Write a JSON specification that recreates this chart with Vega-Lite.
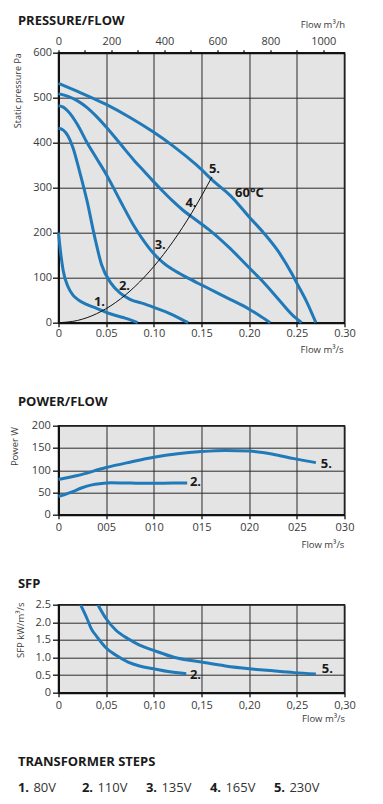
{
  "$schema": "https://vega.github.io/schema/vega-lite/v6.json",
  "autosize": {"type": "pad"},
  "padding": {"left": 8.5, "top": 13.7, "right": 0, "bottom": 0},
  "spacing": 0,
  "bounds": "flush",
  "config": {
    "font": "Open Sans",
    "view": {"fill": "#e4e4e4", "stroke": "#1a1a1a", "strokeWidth": 1.5},
    "axis": {
      "domainColor": "#111111", "domainWidth": 2,
      "tickColor": "#111111", "tickWidth": 1.3,
      "labelFont": "Open Sans", "labelFontSize": 11, "labelColor": "#3a3a3a",
      "labelFlush": false, "labelOverlap": false, "labelSeparation": 0,
      "titleFont": "Open Sans", "titleFontWeight": "normal", "titleFontSize": 9.5, "titleColor": "#3a3a3a",
      "gridColor": "#2a2a2a", "gridWidth": 1, "gridOpacity": 1
    },
    "title": {"font": "Open Sans", "fontSize": 13, "fontWeight": "bold", "color": "#1a1a1a", "anchor": "start", "frame": "group"}
  },
  "datasets": {
    "pressure": [
      {"c": 1, "q": 0, "p": 200}, {"c": 1, "q": 0.002, "p": 160}, {"c": 1, "q": 0.005, "p": 115}, {"c": 1, "q": 0.01, "p": 80}, {"c": 1, "q": 0.015, "p": 62}, {"c": 1, "q": 0.02, "p": 52}, {"c": 1, "q": 0.03, "p": 40}, {"c": 1, "q": 0.04, "p": 32}, {"c": 1, "q": 0.05, "p": 23}, {"c": 1, "q": 0.06, "p": 16}, {"c": 1, "q": 0.07, "p": 10}, {"c": 1, "q": 0.083, "p": 0},
      {"c": 2, "q": 0, "p": 432}, {"c": 2, "q": 0.005, "p": 428}, {"c": 2, "q": 0.01, "p": 415}, {"c": 2, "q": 0.015, "p": 390}, {"c": 2, "q": 0.022, "p": 337}, {"c": 2, "q": 0.03, "p": 270}, {"c": 2, "q": 0.038, "p": 190}, {"c": 2, "q": 0.045, "p": 130}, {"c": 2, "q": 0.055, "p": 88}, {"c": 2, "q": 0.065, "p": 65}, {"c": 2, "q": 0.075, "p": 52}, {"c": 2, "q": 0.09, "p": 42}, {"c": 2, "q": 0.1, "p": 34}, {"c": 2, "q": 0.115, "p": 22}, {"c": 2, "q": 0.125, "p": 12}, {"c": 2, "q": 0.136, "p": 0},
      {"c": 3, "q": 0, "p": 482}, {"c": 3, "q": 0.005, "p": 479}, {"c": 3, "q": 0.01, "p": 470}, {"c": 3, "q": 0.02, "p": 440}, {"c": 3, "q": 0.03, "p": 400}, {"c": 3, "q": 0.04, "p": 365}, {"c": 3, "q": 0.05, "p": 330}, {"c": 3, "q": 0.065, "p": 270}, {"c": 3, "q": 0.08, "p": 212}, {"c": 3, "q": 0.09, "p": 180}, {"c": 3, "q": 0.1, "p": 153}, {"c": 3, "q": 0.11, "p": 133}, {"c": 3, "q": 0.12, "p": 118}, {"c": 3, "q": 0.135, "p": 100}, {"c": 3, "q": 0.15, "p": 84}, {"c": 3, "q": 0.165, "p": 68}, {"c": 3, "q": 0.18, "p": 52}, {"c": 3, "q": 0.2, "p": 30}, {"c": 3, "q": 0.21, "p": 17}, {"c": 3, "q": 0.222, "p": 0},
      {"c": 4, "q": 0, "p": 509}, {"c": 4, "q": 0.01, "p": 503}, {"c": 4, "q": 0.02, "p": 493}, {"c": 4, "q": 0.03, "p": 478}, {"c": 4, "q": 0.04, "p": 458}, {"c": 4, "q": 0.05, "p": 435}, {"c": 4, "q": 0.06, "p": 410}, {"c": 4, "q": 0.07, "p": 384}, {"c": 4, "q": 0.08, "p": 359}, {"c": 4, "q": 0.09, "p": 336}, {"c": 4, "q": 0.1, "p": 313}, {"c": 4, "q": 0.11, "p": 291}, {"c": 4, "q": 0.12, "p": 270}, {"c": 4, "q": 0.13, "p": 251}, {"c": 4, "q": 0.145, "p": 227}, {"c": 4, "q": 0.16, "p": 203}, {"c": 4, "q": 0.18, "p": 165}, {"c": 4, "q": 0.2, "p": 122}, {"c": 4, "q": 0.215, "p": 90}, {"c": 4, "q": 0.23, "p": 54}, {"c": 4, "q": 0.245, "p": 18}, {"c": 4, "q": 0.255, "p": 0},
      {"c": 5, "q": 0, "p": 532}, {"c": 5, "q": 0.02, "p": 514}, {"c": 5, "q": 0.05, "p": 485}, {"c": 5, "q": 0.075, "p": 456}, {"c": 5, "q": 0.1, "p": 423}, {"c": 5, "q": 0.12, "p": 393}, {"c": 5, "q": 0.145, "p": 350}, {"c": 5, "q": 0.165, "p": 310}, {"c": 5, "q": 0.18, "p": 283}, {"c": 5, "q": 0.2, "p": 235}, {"c": 5, "q": 0.215, "p": 200}, {"c": 5, "q": 0.23, "p": 160}, {"c": 5, "q": 0.245, "p": 108}, {"c": 5, "q": 0.25, "p": 88}, {"c": 5, "q": 0.26, "p": 48}, {"c": 5, "q": 0.27, "p": 0}
    ],
    "system": [
      {"q": 0, "p": 0}, {"q": 0.02, "p": 5}, {"q": 0.04, "p": 20}, {"q": 0.06, "p": 45}, {"q": 0.08, "p": 80}, {"q": 0.1, "p": 125}, {"q": 0.12, "p": 180}, {"q": 0.14, "p": 245}, {"q": 0.161, "p": 324}
    ],
    "plabels": [
      {"t": "1.", "q": 0.043, "p": 46}, {"t": "2.", "q": 0.0692, "p": 81.5}, {"t": "3.", "q": 0.1067, "p": 172}, {"t": "4.", "q": 0.139, "p": 267}, {"t": "5.", "q": 0.1636, "p": 342}, {"t": "60°C", "q": 0.2003, "p": 289}
    ],
    "power": [
      {"c": 5, "q": 0, "w": 79}, {"c": 5, "q": 0.02, "w": 88}, {"c": 5, "q": 0.05, "w": 106}, {"c": 5, "q": 0.075, "w": 118}, {"c": 5, "q": 0.1, "w": 129}, {"c": 5, "q": 0.125, "w": 137}, {"c": 5, "q": 0.15, "w": 142}, {"c": 5, "q": 0.175, "w": 144.5}, {"c": 5, "q": 0.2, "w": 143}, {"c": 5, "q": 0.225, "w": 136}, {"c": 5, "q": 0.247, "w": 126}, {"c": 5, "q": 0.27, "w": 117},
      {"c": 2, "q": 0, "w": 41}, {"c": 2, "q": 0.005, "w": 44}, {"c": 2, "q": 0.015, "w": 52}, {"c": 2, "q": 0.024, "w": 60}, {"c": 2, "q": 0.035, "w": 67}, {"c": 2, "q": 0.045, "w": 70}, {"c": 2, "q": 0.055, "w": 72}, {"c": 2, "q": 0.07, "w": 71.5}, {"c": 2, "q": 0.085, "w": 70.5}, {"c": 2, "q": 0.1, "w": 70.5}, {"c": 2, "q": 0.12, "w": 71}, {"c": 2, "q": 0.135, "w": 71}
    ],
    "powlabels": [
      {"t": "2.", "q": 0.1437, "w": 74}, {"t": "5.", "q": 0.281, "w": 115}
    ],
    "sfp": [
      {"c": 5, "q": 0.0413, "s": 2.5}, {"c": 5, "q": 0.05, "s": 2.1}, {"c": 5, "q": 0.06, "s": 1.78}, {"c": 5, "q": 0.073, "s": 1.53}, {"c": 5, "q": 0.085, "s": 1.35}, {"c": 5, "q": 0.1, "s": 1.2}, {"c": 5, "q": 0.122, "s": 1.0}, {"c": 5, "q": 0.15, "s": 0.87}, {"c": 5, "q": 0.175, "s": 0.76}, {"c": 5, "q": 0.2, "s": 0.68}, {"c": 5, "q": 0.225, "s": 0.62}, {"c": 5, "q": 0.247, "s": 0.57}, {"c": 5, "q": 0.27, "s": 0.53},
      {"c": 2, "q": 0.0231, "s": 2.5}, {"c": 2, "q": 0.03, "s": 2.1}, {"c": 2, "q": 0.0343, "s": 1.82}, {"c": 2, "q": 0.04, "s": 1.6}, {"c": 2, "q": 0.05, "s": 1.27}, {"c": 2, "q": 0.06, "s": 1.07}, {"c": 2, "q": 0.073, "s": 0.87}, {"c": 2, "q": 0.085, "s": 0.76}, {"c": 2, "q": 0.1, "s": 0.68}, {"c": 2, "q": 0.115, "s": 0.6}, {"c": 2, "q": 0.134, "s": 0.54}
    ],
    "sfplabels": [
      {"t": "2.", "q": 0.1437, "s": 0.49}, {"t": "5.", "q": 0.282, "s": 0.66}
    ],
    "steps": [
      {"k": 1, "n": "1.", "v": "80V"}, {"k": 2, "n": "2.", "v": "110V"}, {"k": 3, "n": "3.", "v": "135V"}, {"k": 4, "n": "4.", "v": "165V"}, {"k": 5, "n": "5.", "v": "230V"}
    ]
  },
  "vconcat": [
    {
      "width": 286, "height": 270,
      "title": {"text": "PRESSURE/FLOW", "dx": -40.6, "baseline": "alphabetic", "offset": 0, "dy": 18.5},
      "layer": [
        {
          "encoding": {
            "x": {"field": "q", "type": "quantitative", "scale": {"domain": [0, 0.3], "nice": false, "zero": false},
              "axis": {"values": [0, 0.05, 0.1, 0.15, 0.2, 0.25, 0.3], "labelExpr": "datum.value == 0 ? '0' : format(datum.value, '.2f')",
                "title": "Flow m³/s", "titleAlign": "right", "titleAnchor": "end", "titleX": 284.5, "titleY": 26.6, "titleBaseline": "middle",
                "tickSize": 4, "labelPadding": 1.2, "grid": true, "labelOverlap": false}},
            "y": {"field": "p", "type": "quantitative", "scale": {"domain": [0, 600], "nice": false},
              "axis": {"values": [0, 100, 200, 300, 400, 500, 600], "title": "Static pressure Pa", "titleFontSize": 9,
                "titleAngle": 270, "titleAlign": "right", "titleBaseline": "middle", "titleX": -40.6, "titleY": 0,
                "tickSize": 6, "labelPadding": 1, "grid": true, "labelOverlap": false}}
          },
          "layer": [
            {
              "data": {"name": "pressure"},
              "mark": {"type": "line", "color": "#2079b8", "strokeWidth": 3, "interpolate": "monotone"},
              "encoding": {"detail": {"field": "c"}}
            },
            {
              "data": {"name": "system"},
              "mark": {"type": "line", "color": "#111111", "strokeWidth": 1, "interpolate": "monotone"},
              "encoding": {}
            },
            {
              "data": {"name": "plabels"},
              "mark": {"type": "text", "font": "Open Sans", "fontWeight": "bold", "fontSize": 13, "color": "#1a1a1a", "align": "center", "baseline": "middle"},
              "encoding": {"text": {"field": "t"}}
            }
          ]
        },
        {
          "data": {"values": [{"h": 0}, {"h": 1080}]},
          "mark": {"type": "point", "opacity": 0},
          "encoding": {
            "x": {"field": "h", "type": "quantitative", "scale": {"domain": [0, 1080], "nice": false, "zero": false},
              "axis": {"orient": "top", "values": [0, 100, 200, 300, 400, 500, 600, 700, 800, 900, 1000],
                "labelExpr": "datum.value % 200 == 0 ? '' + datum.value : ''", "grid": false, "labelOverlap": false,
                "title": "Flow m³/h", "titleAlign": "right", "titleAnchor": "end", "titleX": 286, "titleY": -28.4, "titleBaseline": "middle",
                "tickSize": 3, "labelPadding": 3.2}}
          }
        }
      ],
      "resolve": {"scale": {"x": "independent"}}
    },
    {
      "width": 286, "height": 102.6,
      "view": {"stroke": null, "fill": null},
      "data": {"values": [{}]},
      "mark": {"type": "point", "opacity": 0}
    },
    {
      "width": 286, "height": 89,
      "title": {"text": "POWER/FLOW", "dx": -40.6, "baseline": "alphabetic", "offset": 1.1},
      "encoding": {
        "x": {"field": "q", "type": "quantitative", "scale": {"domain": [0, 0.3], "nice": false, "zero": false},
          "axis": {"values": [0, 0.05, 0.1, 0.15, 0.2, 0.25, 0.3], "labelExpr": "datum.value == 0 ? '0' : replace(format(datum.value, '.2f'), '.', '')",
            "title": "Flow m³/s", "titleAlign": "right", "titleAnchor": "end", "titleX": 285.4, "titleY": 30, "titleBaseline": "middle",
            "tickSize": 4, "labelPadding": 2.9, "grid": true, "labelOverlap": false}},
        "y": {"field": "w", "type": "quantitative", "scale": {"domain": [0, 200], "nice": false},
          "axis": {"values": [0, 50, 100, 150, 200], "title": "Power W",
            "titleAngle": 270, "titleAlign": "right", "titleBaseline": "middle", "titleX": -44, "titleY": 0.7,
            "tickSize": 6, "labelPadding": 2.3, "grid": true, "labelOverlap": false}}
      },
      "layer": [
        {
          "data": {"name": "power"},
          "mark": {"type": "line", "color": "#2079b8", "strokeWidth": 3, "interpolate": "monotone"},
          "encoding": {"detail": {"field": "c"}}
        },
        {
          "data": {"name": "powlabels"},
          "mark": {"type": "text", "font": "Open Sans", "fontWeight": "bold", "fontSize": 13, "color": "#1a1a1a", "align": "center", "baseline": "middle"},
          "encoding": {"text": {"field": "t"}}
        }
      ]
    },
    {
      "width": 286, "height": 89.4,
      "view": {"stroke": null, "fill": null},
      "data": {"values": [{}]},
      "mark": {"type": "point", "opacity": 0}
    },
    {
      "width": 286, "height": 88,
      "title": {"text": "SFP", "dx": -40.6, "baseline": "alphabetic", "offset": -2.7},
      "encoding": {
        "x": {"field": "q", "type": "quantitative", "scale": {"domain": [0, 0.3], "nice": false, "zero": false},
          "axis": {"values": [0, 0.05, 0.1, 0.15, 0.2, 0.25, 0.3], "labelExpr": "datum.value == 0 ? '0' : replace(format(datum.value, '.2f'), '.', ',')",
            "title": "Flow m³/s", "titleAlign": "right", "titleAnchor": "end", "titleX": 286, "titleY": 26, "titleBaseline": "middle",
            "tickSize": 4, "labelPadding": 2.8, "grid": true, "labelOverlap": false}},
        "y": {"field": "s", "type": "quantitative", "scale": {"domain": [0, 2.5], "nice": false},
          "axis": {"values": [0, 0.5, 1, 1.5, 2, 2.5], "labelExpr": "datum.value == 0 ? '0' : format(datum.value, '.1f')", "title": "SFP kW/m³/s",
            "titleAngle": 270, "titleAlign": "right", "titleBaseline": "middle", "titleX": -38, "titleY": -2.7,
            "tickSize": 6, "labelPadding": 2, "grid": true, "labelOverlap": false}}
      },
      "layer": [
        {
          "data": {"name": "sfp"},
          "mark": {"type": "line", "color": "#2079b8", "strokeWidth": 3, "interpolate": "monotone", "clip": true},
          "encoding": {"detail": {"field": "c"}}
        },
        {
          "data": {"name": "sfplabels"},
          "mark": {"type": "text", "font": "Open Sans", "fontWeight": "bold", "fontSize": 13, "color": "#1a1a1a", "align": "center", "baseline": "middle"},
          "encoding": {"text": {"field": "t"}}
        }
      ]
    },
    {
      "width": 286, "height": 84.3,
      "view": {"stroke": null, "fill": null},
      "data": {"values": [{}]},
      "mark": {"type": "point", "opacity": 0}
    },
    {
      "width": 286, "height": 20,
      "view": {"stroke": null, "fill": null},
      "title": {"text": "TRANSFORMER STEPS", "dx": -40.6, "baseline": "alphabetic", "offset": -1.4},
      "data": {"name": "steps"},
      "encoding": {"x": {"field": "k", "type": "quantitative", "scale": {"domain": [1.634, 6.103], "nice": false, "zero": false}, "axis": null}},
      "layer": [
        {
          "mark": {"type": "text", "font": "Open Sans", "fontWeight": "bold", "fontSize": 13, "color": "#1a1a1a", "align": "left", "baseline": "middle"},
          "encoding": {"text": {"field": "n"}}
        },
        {
          "mark": {"type": "text", "font": "Open Sans", "fontSize": 13, "color": "#333333", "align": "left", "baseline": "middle", "dx": 15.5},
          "encoding": {"text": {"field": "v"}}
        }
      ]
    }
  ]
}
